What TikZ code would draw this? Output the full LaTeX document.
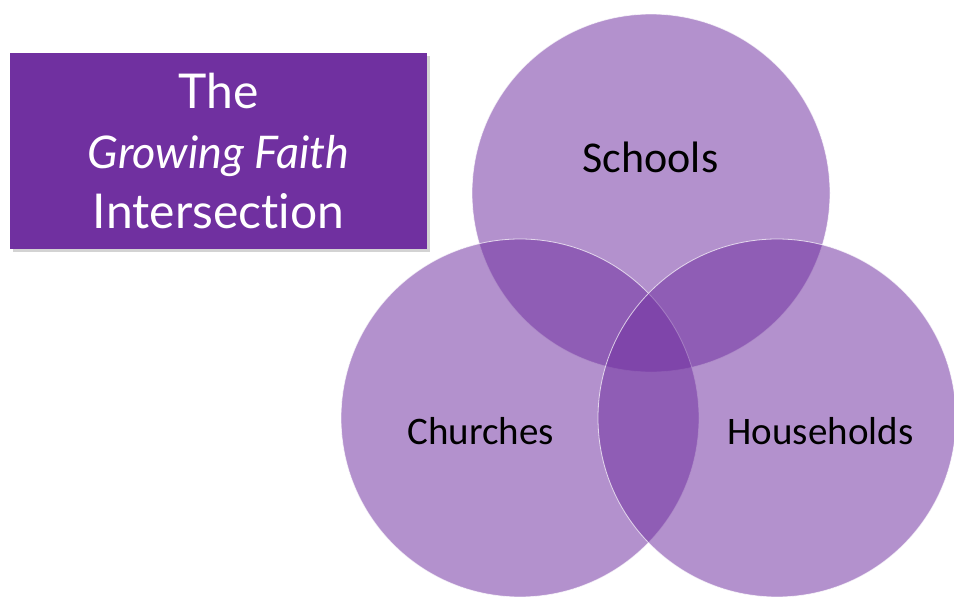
\documentclass[tikz,border=0pt]{standalone}
\usepackage{fontspec}
\setmainfont{Carlito}
\newfontfamily\titlefont[Ligatures={NoCommon}]{Lato}
\usetikzlibrary{shadows}
\definecolor{faithpurple}{HTML}{7030A0}

\begin{document}
\begin{tikzpicture}[x=1pt, y=-1pt, every node/.style={text=black}]
    \tikzstyle{set}=[circle, minimum size=358pt, inner sep=0pt, fill=faithpurple, fill opacity=0.53, draw=white, draw opacity=0.7, line width=0.8pt]  % see-through circles
    \tikzstyle{set label}=[font=\fontsize{39}{44}\selectfont]
    \tikzstyle{title box}=[rectangle, fill=faithpurple, minimum width=417pt, minimum height=196pt, align=center, text=white, font=\titlefont\fontsize{48}{60}\selectfont, drop shadow={shadow xshift=3pt, shadow yshift=-3pt, opacity=0.35}]

    \useasboundingbox (0,0) rectangle (954,597);

    % Title
    \node[title box] (title) at (218.5,151) {The\\{\fontsize{45}{60}\selectfont\itshape Growing Faith}\\Intersection};

    % Circles
    \node[set] (schools) at (651,193) {};
    \node[set] (churches) at (520,418) {};
    \node[set] (households) at (777,418) {};

    % Labels
    \node[set label, font=\fontsize{44}{48}\selectfont] (schools-l) at (650.5,157) {Schools};
    \node[set label] (churches-l) at (480.5,431) {Churches};
    \node[set label] (households-l) at (820.5,431) {Households};
\end{tikzpicture}
\end{document}
